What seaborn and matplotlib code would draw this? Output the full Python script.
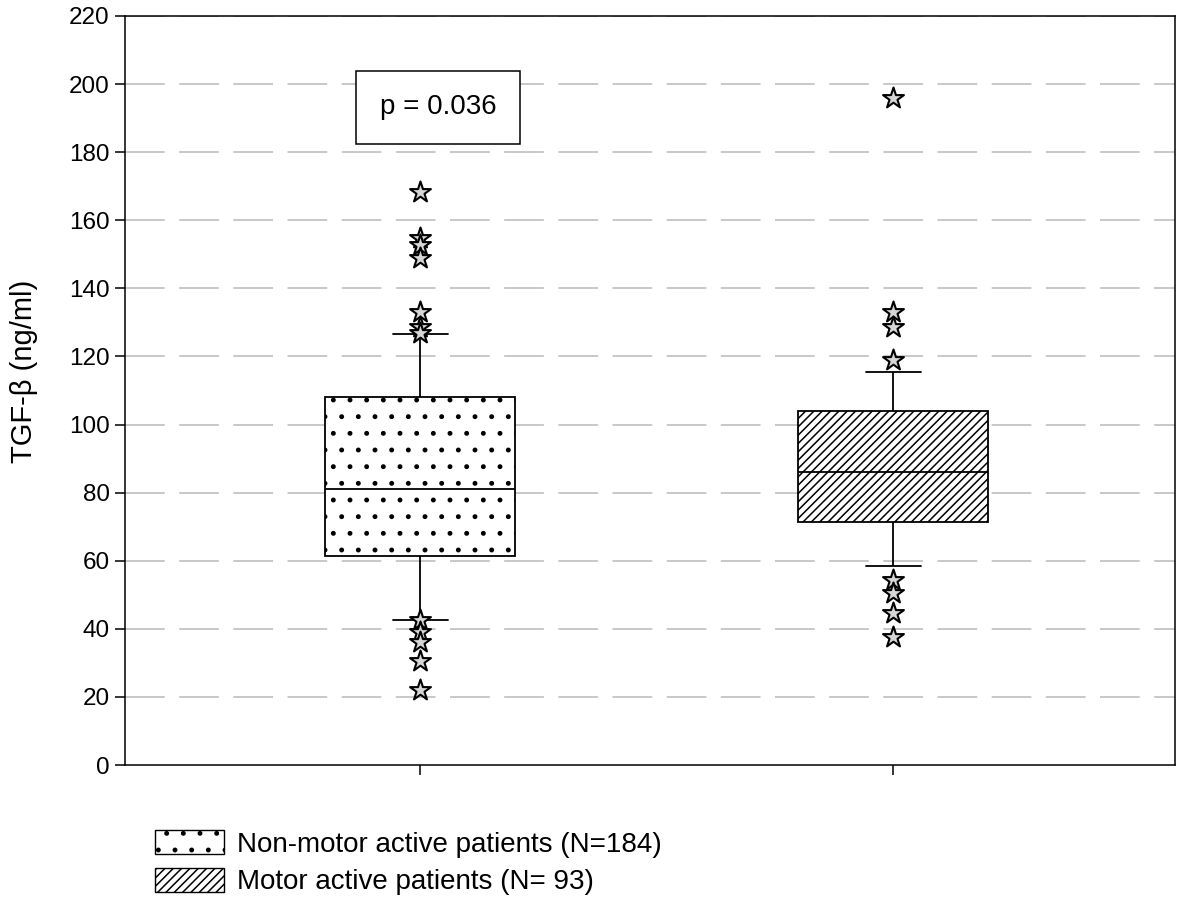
import pandas as pd
import numpy as np
import matplotlib
matplotlib.use("Agg")
import matplotlib.pyplot as plt
import seaborn as sns
from matplotlib.patches import Patch

# groups and box summary values
groups = ["Non-motor active patients (N=184)", "Motor active patients (N= 93)"]
whisker_low = [42.5, 58.5]
q1 = [61.5, 71.5]
median = [81.0, 86.0]
q3 = [108.0, 104.0]
whisker_high = [126.5, 115.5]

# outliers (stars)
outliers_nonmotor = [168.4, 154.7, 152.7, 148.8, 133.1, 128.7, 126.8,
                     42.6, 39.1, 36.2, 30.5, 22.0]
outliers_motor = [195.9, 133.1, 128.7, 118.9, 54.3, 50.4, 44.7, 37.7]

yticks = list(range(0, 221, 20))
p_text = "p = 0.036"
ylabel = "TGF-\u03b2 (ng/ml)"
hatches = [".", "////"]

sns.set_style("ticks")
plt.rcParams["font.family"] = ["Liberation Sans", "DejaVu Sans"]
plt.rcParams["hatch.linewidth"] = 1.1
plt.rcParams["text.color"] = "black"

# five values per group -> quartiles land exactly on the read values
rows = []
for i, g in enumerate(groups):
    for v in [whisker_low[i], q1[i], median[i], q3[i], whisker_high[i]]:
        rows.append({"group": g, "value": v})
box_df = pd.DataFrame(rows)

out_df = pd.DataFrame({
    "group": [groups[0]] * len(outliers_nonmotor) + [groups[1]] * len(outliers_motor),
    "value": outliers_nonmotor + outliers_motor,
})

fig = plt.figure(figsize=(11.81, 8.98), dpi=100)
ax = fig.add_axes([0.1058, 0.1481, 0.8891, 0.8341])

# dashed grid behind everything
for y in yticks[1:]:
    ax.axhline(y, color="#c4c4c4", lw=1.3, ls=(0, (22, 8)), zorder=0)

sns.boxplot(data=box_df, x="group", y="value", order=groups, whis=(0, 100),
            showfliers=False, width=0.4, color="white", linecolor="black",
            linewidth=1.3, ax=ax)

for patch, h in zip(ax.patches, hatches):
    patch.set_hatch(h)
    patch.set_facecolor("white")
    patch.set_edgecolor("black")

# narrower whisker caps
for ln in ax.lines:
    xd = np.asarray(ln.get_xdata(), dtype=float)
    yd = np.asarray(ln.get_ydata(), dtype=float)
    if len(xd) == 2 and yd[0] == yd[1] and abs(xd[1] - xd[0]) < 0.39:
        c = xd.mean()
        ln.set_xdata([c - 0.058, c + 0.058])

sns.scatterplot(data=out_df, x="group", y="value", marker="*", s=250,
                color="#d6d6d6", edgecolor="black", linewidth=1.5,
                zorder=5, ax=ax, legend=False)

ax.set_xlim(-0.624, 1.596)
ax.set_ylim(0, 220)
ax.set_yticks(yticks)
ax.set_xticks([0, 1])
ax.set_xticklabels(["", ""])
ax.set_xlabel("")
ax.set_ylabel(ylabel, fontsize=21, color="black")
ax.yaxis.set_label_coords(-0.083, 0.525)
ax.tick_params(axis="both", direction="out", length=7, width=1.1,
               labelsize=17.5, colors="black", pad=4)
for s in ax.spines.values():
    s.set_visible(True)
    s.set_color("black")
    s.set_linewidth(1.1)

ax.text(0.038, 193.2, p_text, fontsize=20, ha="center", va="center",
        color="black",
        bbox=dict(boxstyle="square,pad=0.85", fc="white", ec="black", lw=1.1))

handles = [Patch(facecolor="white", edgecolor="black", hatch=h, lw=1.0)
           for h in hatches]
fig.legend(handles, groups, loc="upper left", bbox_to_anchor=(0.110, 0.104),
           frameon=False, fontsize=20, handlelength=2.5, handleheight=1.0,
           handletextpad=0.45, labelspacing=0.36)

fig.savefig("out.png", dpi=100)
